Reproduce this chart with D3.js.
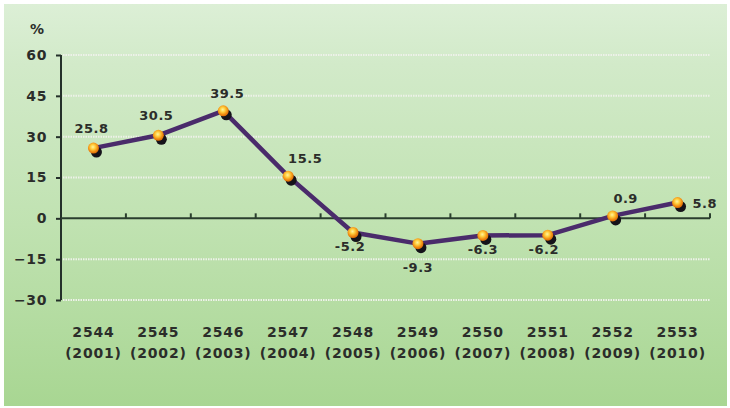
<!DOCTYPE html>
<html>
<head>
<meta charset="utf-8">
<script src="https://cdn.jsdelivr.net/npm/d3@7"></script>
<style>
  html, body { margin: 0; padding: 0; background: #ffffff; }
  svg { display: block; }
  text { font-family: "DejaVu Sans", sans-serif; font-weight: bold; fill: #2b2d2a; }
</style>
</head>
<body>
<svg id="chart" width="730" height="408"></svg>
<script>
const thaiYears = ["2544", "2545", "2546", "2547", "2548", "2549", "2550", "2551", "2552", "2553"];
const ceYears = ["(2001)", "(2002)", "(2003)", "(2004)", "(2005)", "(2006)", "(2007)", "(2008)", "(2009)", "(2010)"];
const values = [25.8, 30.5, 39.5, 15.5, -5.2, -9.3, -6.3, -6.2, 0.9, 5.8];
const yTicks = [60, 45, 30, 15, 0, -15, -30];
const unitLabel = "%";

// label placement style (offset from point, anchor)
const labelPlacement = [
  [-2, -15, "middle"], [-2, -15, "middle"], [4, -13, "middle"], [17, -13, "middle"],
  [-3, 19, "middle"], [0, 28, "middle"], [0, 19, "middle"], [-4, 19, "middle"],
  [13, -13, "middle"], [15, 5, "start"]
];

const svg = d3.select("#chart");
const defs = svg.append("defs");

const bg = defs.append("linearGradient").attr("id", "bg").attr("x1", 0).attr("y1", 0).attr("x2", 0).attr("y2", 1);
bg.append("stop").attr("offset", "0%").attr("stop-color", "#dcefd6");
bg.append("stop").attr("offset", "15%").attr("stop-color", "#d2eac9");
bg.append("stop").attr("offset", "55%").attr("stop-color", "#c0e2b1");
bg.append("stop").attr("offset", "100%").attr("stop-color", "#a8d692");

const dot = defs.append("radialGradient").attr("id", "dot").attr("cx", "45%").attr("cy", "40%").attr("r", "60%");
dot.append("stop").attr("offset", "0%").attr("stop-color", "#fff3a0");
dot.append("stop").attr("offset", "35%").attr("stop-color", "#ffd040");
dot.append("stop").attr("offset", "75%").attr("stop-color", "#f08a10");
dot.append("stop").attr("offset", "100%").attr("stop-color", "#d86a08");

svg.append("rect").attr("x", 4).attr("y", 4).attr("width", 723).attr("height", 402).attr("fill", "url(#bg)");

const x = d3.scaleBand().domain(thaiYears).range([61, 710]).padding(0);
const y = d3.scaleLinear().domain([-30, 60]).range([300, 55]);

// gridlines
svg.append("g").selectAll("line").data(yTicks.filter(d => d !== 0)).join("line")
  .attr("x1", 63).attr("x2", 710)
  .attr("y1", d => y(d)).attr("y2", d => y(d))
  .attr("stroke", "#eef1ea").attr("stroke-width", 2).attr("stroke-dasharray", "1.5,1");

// y axis
const yAxis = d3.axisLeft(y).tickValues(yTicks).tickSize(5).tickPadding(9).tickFormat(d3.format("d"));
const gy = svg.append("g").attr("transform", "translate(61,0)").call(yAxis);
gy.select(".domain").attr("stroke", "#24302a").attr("stroke-width", 2).attr("d", `M0,${y(60)}V${y(-30)}`);
gy.selectAll(".tick line").attr("stroke", "#24302a").attr("stroke-width", 2);
gy.selectAll(".tick text").attr("font-size", 14).attr("fill", "#2b2d2a").attr("font-family", "DejaVu Sans")
  .attr("font-weight", "bold").attr("letter-spacing", 0.6);

// zero line with upward ticks at band edges
const zeroAxis = d3.axisTop(x).tickSize(0).tickFormat("");
const gz = svg.append("g").attr("transform", `translate(0,${y(0)})`).call(zeroAxis);
gz.select(".domain").attr("stroke", "#2a3e2e").attr("stroke-width", 2).attr("d", "M61,0H710");
gz.selectAll(".tick").remove();
svg.append("g").selectAll("line").data(thaiYears).join("line")
  .attr("x1", d => x(d) + x.bandwidth()).attr("x2", d => x(d) + x.bandwidth())
  .attr("y1", y(0)).attr("y2", y(0) - 5)
  .attr("stroke", "#2a3e2e").attr("stroke-width", 2);

// x labels
const xl = svg.append("g");
xl.selectAll("text.th").data(thaiYears).join("text").attr("class", "th")
  .attr("x", d => x(d) + x.bandwidth() / 2).attr("y", 337)
  .attr("text-anchor", "middle").attr("font-size", 14).attr("letter-spacing", 0.8).text(d => d);
xl.selectAll("text.ce").data(ceYears).join("text").attr("class", "ce")
  .attr("x", (d, i) => x(thaiYears[i]) + x.bandwidth() / 2).attr("y", 358)
  .attr("text-anchor", "middle").attr("font-size", 14).attr("letter-spacing", 0.8).text(d => d);

// unit
svg.append("text").attr("x", 37).attr("y", 34).attr("text-anchor", "middle").attr("font-size", 14).text(unitLabel);

const pts = values.map((v, i) => ({ v, i, cx: x(thaiYears[i]) + x.bandwidth() / 2, cy: y(v) }));

// line
const line = d3.line().x(d => d.cx).y(d => d.cy);
svg.append("path").datum(pts).attr("d", line)
  .attr("fill", "none").attr("stroke", "#4a2b6b").attr("stroke-width", 4.5).attr("stroke-linejoin", "round");

// marker shadows
svg.append("g").selectAll("circle").data(pts).join("circle")
  .attr("cx", d => d.cx + 3).attr("cy", d => d.cy + 4).attr("r", 5.5).attr("fill", "#15131a");
// markers
svg.append("g").selectAll("circle").data(pts).join("circle")
  .attr("cx", d => d.cx).attr("cy", d => d.cy).attr("r", 5.5).attr("fill", "url(#dot)");

// value labels
svg.append("g").selectAll("text").data(pts).join("text")
  .attr("x", d => d.cx + labelPlacement[d.i][0])
  .attr("y", d => d.cy + labelPlacement[d.i][1])
  .attr("text-anchor", d => labelPlacement[d.i][2])
  .attr("font-size", 13).attr("letter-spacing", 0.5)
  .text(d => d.v.toFixed(1));
</script>
</body>
</html>
